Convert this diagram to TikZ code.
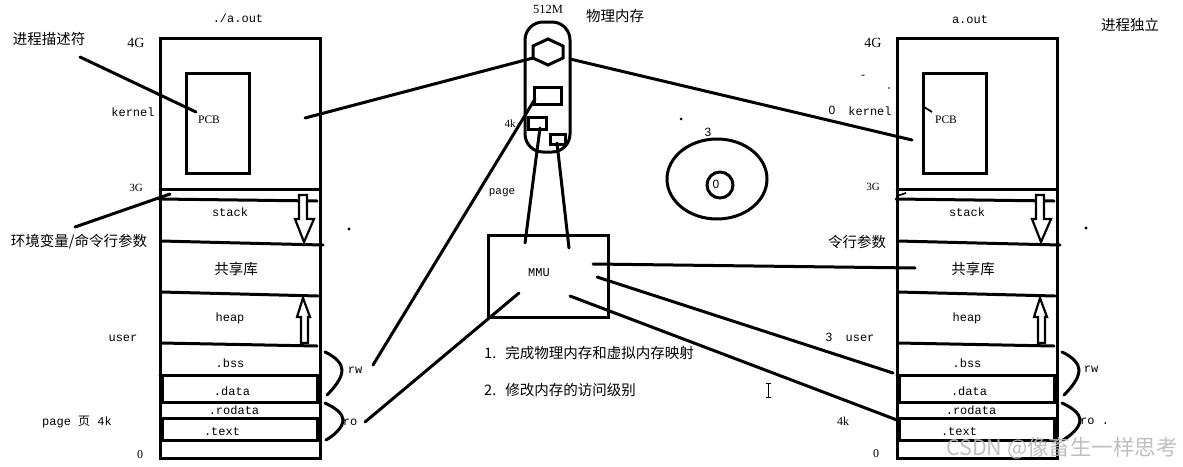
\documentclass[tikz,border=0pt]{standalone}
\usepackage{fontspec}
\setmainfont{Liberation Serif}
\setmonofont{Liberation Mono}
\newfontfamily\cjk{Noto Sans CJK SC}
\newfontfamily\sansf{Liberation Sans}
\tikzset{
  ln/.style={line width=3pt, line cap=round},
  boxd/.style={draw, line width=3pt, inner sep=0pt, anchor=north west},
  mono/.style={font=\ttfamily\fontsize{12}{14}\selectfont, inner sep=0pt},
  cjkt/.style={font=\cjk\fontsize{14.5}{16}\selectfont, inner sep=0pt},
  ser/.style={font=\fontsize{12}{14}\selectfont, inner sep=0pt},
  sansl/.style={font=\sansf\fontsize{12}{14}\selectfont, inner sep=0pt},
  hollow/.style={draw, line width=2.2pt, fill=white, line join=miter},
  memcol/.pic={
    \draw[line width=3pt] (0,0) rectangle (160,420);
    \node[boxd, minimum width=63pt, minimum height=100pt] (-pcb) at (25,34) {};
    \node[ser, font=\fontsize{11.5}{13}\selectfont] (-pcbl) at (49,82) {PCB};
    \draw[ln] (0,151) -- (160,151);
    \draw[ln] (-1,161) -- (157,163);
    \draw[ln] (1,203) -- (80,205) -- (163,207);
    \draw[ln] (1,254) -- (80,256) -- (158,258);
    \draw[ln] (1,305) -- (157,308);
    \draw[ln] (0,337) -- (160,337);
    \draw[line width=3pt] (2,337) rectangle (157,364);
    \draw[line width=3pt] (2,380) rectangle (157,402);
    \node[mono] (-stack) at (70,174) {stack};
    \node[cjkt] (-lib) at (76,231) {共享库};
    \node[mono] (-heap) at (70,280) {heap};
    \node[mono] (-bss) at (70,325) {.bss};
    \node[mono] (-data) at (72,353) {.data};
    \node[mono] (-rodata) at (74,372) {.rodata};
    \node[mono] (-text) at (62,394) {.text};
    \draw[hollow] (139,157) -- (147,157) -- (147,181) -- (154,181) -- (144,204) -- (135,181) -- (139,181) -- cycle;
    \draw[hollow] (143,260) -- (150,279) -- (148,279) -- (148,305) -- (141,305) -- (141,279) -- (137,279) -- cycle;
    \draw[ln] (165,314) .. controls (176,319) and (182,326) .. (182,332) .. controls (182,341) and (173,351) .. (167,357);
    \draw[ln] (165,365) .. controls (176,370) and (183,376) .. (183,382) .. controls (183,390) and (173,398) .. (166,402);
  }
}
\begin{document}
\begin{tikzpicture}[x=1pt,y=-1pt]
\useasboundingbox[fill=white] (0,0) rectangle (1183,466);

% columns
\pic (L) at (160,38) {memcol};
\pic (R) at (897,38) {memcol};

% left column labels
\node[mono] (laout) at (238,18) {./a.out};
\node[cjkt] (ldesc) at (49,39) {进程描述符};
\node[ser, font=\fontsize{14}{16}\selectfont] (l4g) at (136,43) {4G};
\node[mono] (lkern) at (133,112) {kernel};
\node[ser, font=\fontsize{11}{13}\selectfont] (l3g) at (136,188) {3G};
\node[cjkt] (lenv) at (79,242) {环境变量/命令行参数};
\node[mono] (luser) at (123,338) {user};
\node[mono, anchor=west] (lpage) at (42,422) {page {\cjk 页} 4k};
\node[ser] (l0) at (140,455) {0};
\node[mono] (lrw) at (355,370) {rw};
\node[mono] (lro) at (350,422) {ro};

% right column labels
\node[mono] (raout) at (970,20) {a.out};
\node[cjkt] (rind) at (1130,25) {进程独立};
\node[ser, font=\fontsize{14}{16}\selectfont] (r4g) at (873,43) {4G};
\node[ser] (rdash) at (863,77) {-};
\node[sansl] (r0k) at (832,110) {0};
\node[mono] (rkern) at (870,111) {kernel};
\node[ser, font=\fontsize{11}{13}\selectfont] (r3g) at (873,187) {3G};
\node[cjkt] (renv) at (857,242) {令行参数};
\node[sansl] (r3u) at (829,337) {3};
\node[mono] (ruser) at (860,338) {user};
\node[ser] (r4k) at (843,421) {4k};
\node[ser] (r0) at (876,454) {0};
\node[mono] (rrw) at (1091,369) {rw};
\node[mono, anchor=west] (rro) at (1080,421) {ro .};

% physical memory
\node[ser, font=\fontsize{12.5}{14}\selectfont] (m512) at (548,9) {512M};
\node[cjkt] (mphys) at (615,16) {物理内存};
\node[draw, line width=3pt, rounded corners=18pt, minimum width=45pt, minimum height=130pt, inner sep=0pt] (pm) at (547.5,87) {};
\draw[line width=3pt, line join=miter] (548,39) -- (563,46) -- (563,58) -- (548,65) -- (533,58) -- (533,46) -- cycle;
\coordinate (hexL) at (533,58);
\coordinate (hexR) at (570,59);
\node[boxd, minimum width=27pt, minimum height=17pt] (r1) at (533,86) {};
\node[boxd, minimum width=18pt, minimum height=12pt] (r2) at (527,116) {};
\node[boxd, minimum width=15pt, minimum height=10pt] (r3) at (549,133) {};
\node[ser, font=\fontsize{11}{13}\selectfont] (m4k) at (510,124) {4k};
\node[mono, font=\ttfamily\fontsize{11}{13}\selectfont] (mpage) at (502,193) {page};

% MMU
\node[draw, line width=3pt, minimum width=120pt, minimum height=82pt, inner sep=0pt] (mmu) at (548,276) {};
\node[mono, font=\ttfamily\fontsize{12}{13}\selectfont] (mmul) at (539,273) {MMU};
\node[cjkt, anchor=west] (t1) at (484,353) {1.\hspace{9pt}完成物理内存和虚拟内存映射};
\node[cjkt, anchor=west] (t2) at (484,390) {2.\hspace{9pt}修改内存的访问级别};

% disk
\draw[line width=3pt] (717,179) ellipse (50pt and 40pt);
\node[draw, circle, line width=3pt, minimum size=26pt, inner sep=0pt] (disk0) at (720,185) {};
\node[sansl] (d0) at (716,184) {0};
\node[sansl] (d3) at (708,132) {3};

% connectors
\coordinate (descEnd) at (80,57);
\coordinate (pcbTip) at (196,112);
\draw[ln] (descEnd) -- (pcbTip);
\coordinate (envEnd) at (75,227);
\coordinate (envTip) at (170,194);
\draw[ln] (envEnd) -- (envTip);
\coordinate (lkTip) at (305,118);
\draw[ln] (lkTip) -- (hexL);
\coordinate (rkTip) at (912,140);
\draw[ln] (hexR) -- (rkTip);
\coordinate (rwEnd) at (373,365);
\coordinate (r1in) at (535,99);
\draw[ln] (rwEnd) -- (r1in);
\coordinate (r2b) at (540,128);
\coordinate (mmuA) at (525,243);
\draw[ln] (r2b) -- (mmuA);
\coordinate (r3b) at (557,143);
\coordinate (mmuB) at (569,248);
\draw[ln] (r3b) -- (mmuB);
\coordinate (roEnd) at (365,422);
\coordinate (mmuC) at (519,293);
\draw[ln] (roEnd) -- (mmuC);
\coordinate (mmuD) at (593,264);
\coordinate (rLib) at (915,268);
\draw[ln] (mmuD) -- (rLib);
\coordinate (mmuE) at (597,277);
\coordinate (rData) at (893,373);
\draw[ln] (mmuE) -- (rData);
\coordinate (mmuF) at (570,296);
\coordinate (rText) at (897,420);
\draw[ln] (mmuF) -- (rText);

% small marks
\draw[line width=1.8pt] (924,107) -- (932,112);
\draw[line width=1.6pt] (897,196) -- (906,193);
\fill (681,119) circle (1.5pt);
\fill (349,229) circle (1.6pt);
\fill (1086,228) circle (1.6pt);
\fill (889,88) circle (0.8pt);
\draw[line width=0.8pt] (768,383) -- (768,397) (765.5,383) -- (770.5,383) (765.5,397) -- (770.5,397);

% watermark
\node[font=\cjk\fontsize{21.5}{24}\selectfont, text=gray!55, opacity=0.9, inner sep=0pt] (wm) at (1062,448) {CSDN @像畜生一样思考};
\end{tikzpicture}
\end{document}
